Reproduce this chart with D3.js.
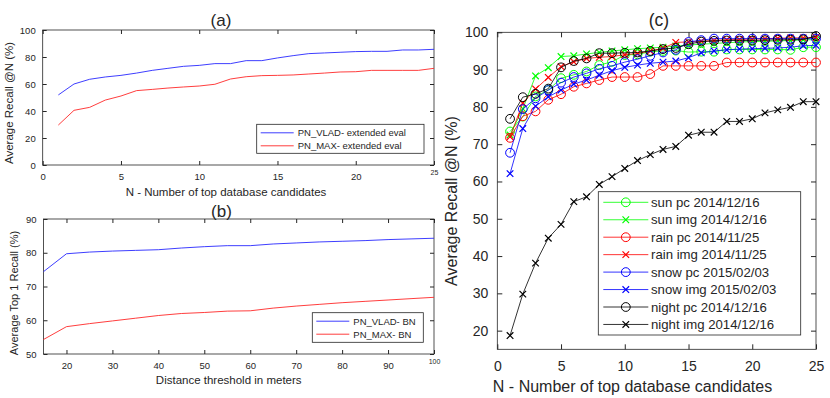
<!DOCTYPE html>
<meta charset="utf-8">
<style>
body { margin: 0; background: #fff; }
svg { font-family: "Liberation Sans", Arial, sans-serif; }
.tick text { fill: #262626; }
.tick line { stroke: #262626; }
.frame { fill: none; stroke: #262626; stroke-width: 0.8px; }
.series { fill: none; }
</style>
<body>
<script src="https://cdn.jsdelivr.net/npm/d3@7"></script>
<script>

// ---- data ----
var topN = d3.range(1, 26);

// (a) recall @N
var vladExt = [51.9, 60.0, 63.5, 65.2, 66.4, 68.1, 70.1, 71.6, 73.1, 73.8, 75.1, 75.1, 77.3, 77.3, 79.3, 81.0, 82.5, 83.0, 83.5, 84.0, 84.2, 84.2, 85.2, 85.2, 85.7];
var maxExt  = [29.6, 40.5, 42.7, 48.1, 51.1, 55.1, 56.0, 57.0, 57.8, 58.5, 59.8, 63.7, 65.4, 66.2, 66.4, 66.7, 67.4, 68.1, 68.9, 69.1, 70.1, 70.1, 70.1, 70.1, 71.6];

// (b) top 1 recall vs distance
var distances = [15, 20, 25, 30, 35, 40, 45, 50, 55, 60, 65, 70, 75, 80, 85, 90, 95, 100];
var vladBN = [74.4, 79.7, 80.2, 80.5, 80.7, 80.9, 81.4, 81.8, 82.1, 82.1, 82.6, 82.9, 83.2, 83.4, 83.6, 83.9, 84.1, 84.3];
var maxBN  = [54.3, 58.1, 59.0, 59.8, 60.6, 61.4, 62.0, 62.3, 62.7, 62.8, 63.6, 64.2, 64.7, 65.2, 65.6, 66.0, 66.4, 66.8];

// (c) per condition
var sunPc    = [73.4, 77.4, 82.8, 84.5, 87.7, 88.6, 89.5, 91.2, 92.1, 93.9, 94.1, 94.8, 95.0, 95.1, 94.7, 94.8, 94.8, 95.4, 95.4, 95.4, 95.4, 95.4, 95.3, 96.0, 96.0];
var sunImg   = [72.5, 79.5, 88.3, 90.5, 93.5, 93.7, 94.2, 94.6, 95.0, 95.3, 95.6, 95.8, 96.0, 96.3, 96.6, 96.8, 97.0, 97.2, 97.4, 97.5, 97.6, 97.7, 97.8, 98.0, 98.0];
var rainPc   = [71.7, 77.5, 78.8, 81.9, 83.4, 85.4, 86.3, 87.2, 88.0, 88.0, 88.0, 88.8, 91.0, 91.0, 91.0, 91.0, 91.0, 91.9, 91.9, 91.9, 91.9, 91.9, 91.9, 91.9, 91.9];
var rainImg  = [72.0, 81.0, 84.8, 87.9, 90.8, 92.1, 93.0, 93.3, 93.5, 94.0, 94.3, 95.0, 95.7, 97.3, 97.4, 97.6, 97.8, 98.0, 98.1, 98.2, 98.3, 98.4, 98.5, 98.5, 98.6];
var snowPc   = [67.7, 79.4, 82.3, 84.5, 86.5, 88.0, 89.0, 90.2, 91.0, 92.0, 92.8, 93.7, 94.6, 95.3, 97.4, 97.9, 98.3, 98.3, 98.3, 98.3, 98.3, 98.3, 98.3, 98.3, 98.3];
var snowImg  = [62.1, 74.2, 80.2, 82.7, 84.5, 86.1, 87.2, 88.5, 89.7, 90.6, 91.2, 91.7, 92.0, 92.3, 93.2, 94.5, 95.0, 95.3, 95.5, 95.6, 95.7, 95.8, 96.0, 96.4, 96.5];
var nightPc  = [76.8, 82.6, 83.5, 84.9, 90.6, 92.3, 93.0, 94.4, 94.4, 94.5, 94.6, 95.0, 95.5, 95.8, 96.8, 97.5, 97.7, 97.8, 97.8, 97.8, 97.9, 98.0, 98.0, 98.1, 99.0];
var nightImg = [18.7, 29.8, 38.1, 44.8, 48.5, 54.6, 55.9, 59.2, 61.3, 63.5, 65.6, 67.2, 68.6, 69.4, 72.4, 73.2, 73.2, 76.1, 76.1, 76.8, 78.4, 79.2, 79.9, 81.4, 81.4];

var condNames  = ["sun pc 2014/12/16", "sun img 2014/12/16", "rain pc 2014/11/25", "rain img 2014/11/25",
                  "snow pc 2015/02/03", "snow img 2015/02/03", "night pc 2014/12/16", "night img 2014/12/16"];
var condValues = [sunPc, sunImg, rainPc, rainImg, snowPc, snowImg, nightPc, nightImg];
var condColors = ["#00ff00", "#00ff00", "#ff0000", "#ff0000", "#0000ff", "#0000ff", "#000000", "#000000"];
var condMarks  = ["o", "x", "o", "x", "o", "x", "o", "x"];

var svg = d3.select("body").append("svg")
    .attr("width", 830)
    .attr("height", 398);

// draws a boxed matlab-like panel, returns scales
function panel(o) {
    var x = d3.scaleLinear().domain(o.xDomain).range([o.left, o.right]);
    var y = d3.scaleLinear().domain(o.yDomain).range([o.bottom, o.top]);
    var g = svg.append("g");

    g.append("rect").attr("class", "frame")
        .attr("x", o.left).attr("y", o.top)
        .attr("width", o.right - o.left).attr("height", o.bottom - o.top);

    var ax = [
        [d3.axisBottom(x), "translate(0," + o.bottom + ")", o.xTicks, true],
        [d3.axisTop(x), "translate(0," + o.top + ")", o.xTicks, false],
        [d3.axisLeft(y), "translate(" + o.left + ",0)", o.yTicks, true],
        [d3.axisRight(y), "translate(" + o.right + ",0)", o.yTicks, false]
    ];
    ax.forEach(function(a, i) {
        var axis = a[0].tickValues(a[2]).tickSizeInner(-o.tick).tickSizeOuter(0);
        if (!a[3]) axis.tickFormat("");
        else if (i == 0) axis.tickPadding(o.xPad);
        else axis.tickPadding(o.yPad);
        var ga = g.append("g").attr("transform", a[1]).call(axis);
        ga.select(".domain").remove();
        ga.selectAll("text").style("font-size", o.tickFont + "px")
            .style("font-family", "Liberation Sans, Arial, sans-serif");
    });
    return {x: x, y: y, g: g};
}

function label(txt, x, y, size, rotate) {
    var t = svg.append("text")
        .attr("text-anchor", "middle")
        .attr("dominant-baseline", "central")
        .style("font-size", size + "px")
        .style("fill", "#262626")
        .text(txt);
    if (rotate) t.attr("transform", "translate(" + x + "," + y + ") rotate(-90)");
    else t.attr("x", x).attr("y", y);
    return t;
}

////////////////
//    (a)     //
////////////////
var pa = panel({left: 42.7, right: 434, top: 30, bottom: 165,
    xDomain: [0, 25], yDomain: [0, 100],
    xTicks: [0, 5, 10, 15, 20, 25], yTicks: [0, 20, 40, 60, 80, 100],
    tick: 4, tickFont: 9.5, xPad: 8.5, yPad: 7});
pa.g.selectAll("text").filter(function(d) { return d === 25 && this.textContent === "25"; })
    .style("font-size", "7px").attr("dy", "0.2em");

var lineA = d3.line().x(function(d, i) { return pa.x(topN[i]); }).y(function(d) { return pa.y(d); });
pa.g.append("path").attr("class", "series").attr("d", lineA(vladExt)).attr("stroke", "#2828ff").attr("stroke-width", 0.9);
pa.g.append("path").attr("class", "series").attr("d", lineA(maxExt)).attr("stroke", "#ff2828").attr("stroke-width", 0.9);

label("(a)", 221, 20, 17);
label("N - Number of top database candidates", 226, 192, 11.5);
label("Average Recall @N (%)", 9.3, 103, 11.5, true);

function smallLegend(x0, y0, w, h, names, colors, size) {
    svg.append("rect").attr("class", "frame")
        .attr("x", x0).attr("y", y0).attr("width", w).attr("height", h)
        .style("fill", "#fff");
    names.forEach(function(n, i) {
        var yy = y0 + 8.5 + i * 13;
        svg.append("line").attr("x1", x0 + 4).attr("x2", x0 + 37)
            .attr("y1", yy).attr("y2", yy).attr("stroke", colors[i]).attr("stroke-width", 0.9);
        svg.append("text").attr("x", x0 + 41).attr("y", yy)
            .attr("dominant-baseline", "central")
            .style("font-size", size + "px").style("fill", "#262626").text(n);
    });
}
smallLegend(256.7, 124.3, 167.3, 29, ["PN_VLAD- extended eval", "PN_MAX- extended eval"], ["#2828ff", "#ff2828"], 9.5);

////////////////
//    (b)     //
////////////////
var pb = panel({left: 43.5, right: 434, top: 219, bottom: 354,
    xDomain: [15, 100], yDomain: [50, 90],
    xTicks: [20, 30, 40, 50, 60, 70, 80, 90, 100], yTicks: [50, 60, 70, 80, 90],
    tick: 4, tickFont: 9.5, xPad: 8.5, yPad: 7});
pb.g.selectAll("text").filter(function(d) { return d === 100 && this.textContent === "100"; })
    .style("font-size", "7px").attr("dy", "0.2em");

var lineB = d3.line().x(function(d, i) { return pb.x(distances[i]); }).y(function(d) { return pb.y(d); });
pb.g.append("path").attr("class", "series").attr("d", lineB(vladBN)).attr("stroke", "#2828ff").attr("stroke-width", 0.9);
pb.g.append("path").attr("class", "series").attr("d", lineB(maxBN)).attr("stroke", "#ff2828").attr("stroke-width", 0.9);

label("(b)", 221.5, 211, 17);
label("Distance threshold in meters", 228.7, 380, 11.5);
label("Average Top 1 Recall (%)", 13.5, 293, 11, true);
smallLegend(312.3, 312.7, 111, 29.6, ["PN_VLAD- BN", "PN_MAX- BN"], ["#2828ff", "#ff2828"], 9.5);

////////////////
//    (c)     //
////////////////
var pc = panel({left: 497.3, right: 816, top: 32.3, bottom: 349.3,
    xDomain: [0, 25], yDomain: [15, 100],
    xTicks: [0, 5, 10, 15, 20, 25], yTicks: [20, 30, 40, 50, 60, 70, 80, 90, 100],
    tick: 5, tickFont: 14, xPad: 12, yPad: 9});

function marker(sel, kind, color) {
    if (kind == "o") {
        sel.append("circle").attr("r", 4.4).attr("fill", "none")
            .attr("stroke", color).attr("stroke-width", 1);
    } else {
        sel.append("path").attr("d", "M-3.3,-3.3L3.3,3.3M-3.3,3.3L3.3,-3.3")
            .attr("stroke", color).attr("stroke-width", 1.2);
    }
}

var lineC = d3.line().x(function(d, i) { return pc.x(topN[i]); }).y(function(d) { return pc.y(d); });
condValues.forEach(function(vals, k) {
    var s = pc.g.append("g");
    s.append("path").attr("class", "series").attr("d", lineC(vals))
        .attr("stroke", condColors[k]).attr("stroke-width", 0.8);
    s.selectAll("g.pt").data(vals).enter().append("g")
        .attr("class", "pt")
        .attr("transform", function(d, i) { return "translate(" + pc.x(topN[i]) + "," + pc.y(d) + ")"; })
        .each(function() { marker(d3.select(this), condMarks[k], condColors[k]); });
});

label("(c)", 659, 20, 17.5);
label("N - Number of top database candidates", 632.5, 386.7, 16);
label("Average Recall @N (%)", 451, 201, 16, true);

// legend (c)
var lg = svg.append("g");
lg.append("rect").attr("class", "frame").style("fill", "#fff")
    .attr("x", 598.3).attr("y", 191.7).attr("width", 202.4).attr("height", 143.3);
condNames.forEach(function(n, i) {
    var yy = 202.3 + i * 17.45;
    lg.append("line").attr("x1", 603.3).attr("x2", 648.3).attr("y1", yy).attr("y2", yy)
        .attr("stroke", condColors[i]).attr("stroke-width", 0.8);
    marker(lg.append("g").attr("transform", "translate(625.8," + yy + ")"), condMarks[i], condColors[i]);
    lg.append("text").attr("x", 651).attr("y", yy)
        .attr("dominant-baseline", "central")
        .style("font-size", "13.2px").style("fill", "#262626").text(n);
});

</script>
</body>
